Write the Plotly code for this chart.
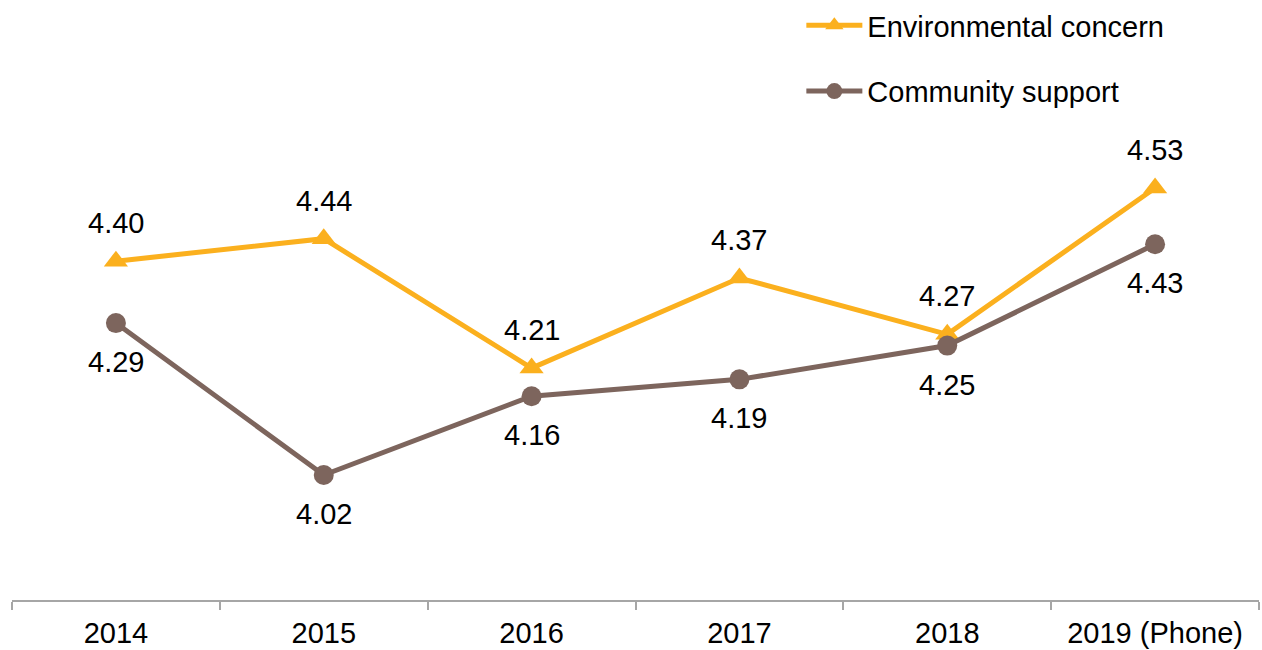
import plotly.graph_objects as go

# Survey years and mean scores for each series
years = ["2014", "2015", "2016", "2017", "2018", "2019 (Phone)"]
environmental = [4.40, 4.44, 4.21, 4.37, 4.27, 4.53]
community = [4.29, 4.02, 4.16, 4.19, 4.25, 4.43]

ORANGE = "#FBB01E"
BROWN = "#7D655D"
FONT = "Liberation Sans, Arial, sans-serif"
FS = 29

fig = go.Figure()

fig.add_trace(go.Scatter(
    x=years, y=environmental, name="Environmental concern",
    mode="lines+markers",
    line=dict(color=ORANGE, width=5),
    marker=dict(symbol="triangle-up", size=21, color=ORANGE),
    legendgroup="env",
))
fig.add_trace(go.Scatter(
    x=years, y=community, name="Community support",
    mode="lines+markers",
    line=dict(color=BROWN, width=5),
    marker=dict(symbol="circle", size=20, color=BROWN),
    legendgroup="com",
))

# Value labels: environmental above its markers, community below.
# Category positions are given by index so year-like names are not read as numbers.
annotations = []
for i, v in enumerate(environmental):
    annotations.append(dict(x=i, y=v, xref="x", yref="y", text=f"{v:.2f}", showarrow=False,
                            yshift=38, font=dict(size=FS, color="#000000", family=FONT)))
for i, v in enumerate(community):
    annotations.append(dict(x=i, y=v, xref="x", yref="y", text=f"{v:.2f}", showarrow=False,
                            yshift=-39, font=dict(size=FS, color="#000000", family=FONT)))

fig.update_layout(
    width=1262, height=650,
    margin=dict(l=12, r=3, t=0, b=50),
    paper_bgcolor="white", plot_bgcolor="white",
    font=dict(family=FONT, size=FS, color="#000000"),
    annotations=annotations,
    showlegend=True,
    legend=dict(
        x=0.633, y=1.0, xanchor="left", yanchor="top",
        font=dict(size=FS, color="#000000", family=FONT),
        traceorder="grouped", tracegroupgap=25,
        itemwidth=56,
        bgcolor="rgba(0,0,0,0)",
    ),
    xaxis=dict(
        type="category",
        range=[-0.5, 5.5],
        showline=True, linecolor="#A6A6A6", linewidth=1.5,
        ticks="outside", tickson="boundaries", ticklen=8,
        tickcolor="#A6A6A6", tickwidth=1.5,
        ticklabelstandoff=6,
        showgrid=False, zeroline=False,
        tickfont=dict(size=FS, color="#000000", family=FONT),
    ),
    yaxis=dict(
        range=[3.798, 4.864],
        visible=False, showgrid=False, zeroline=False,
    ),
)

fig.write_html("out.html")
